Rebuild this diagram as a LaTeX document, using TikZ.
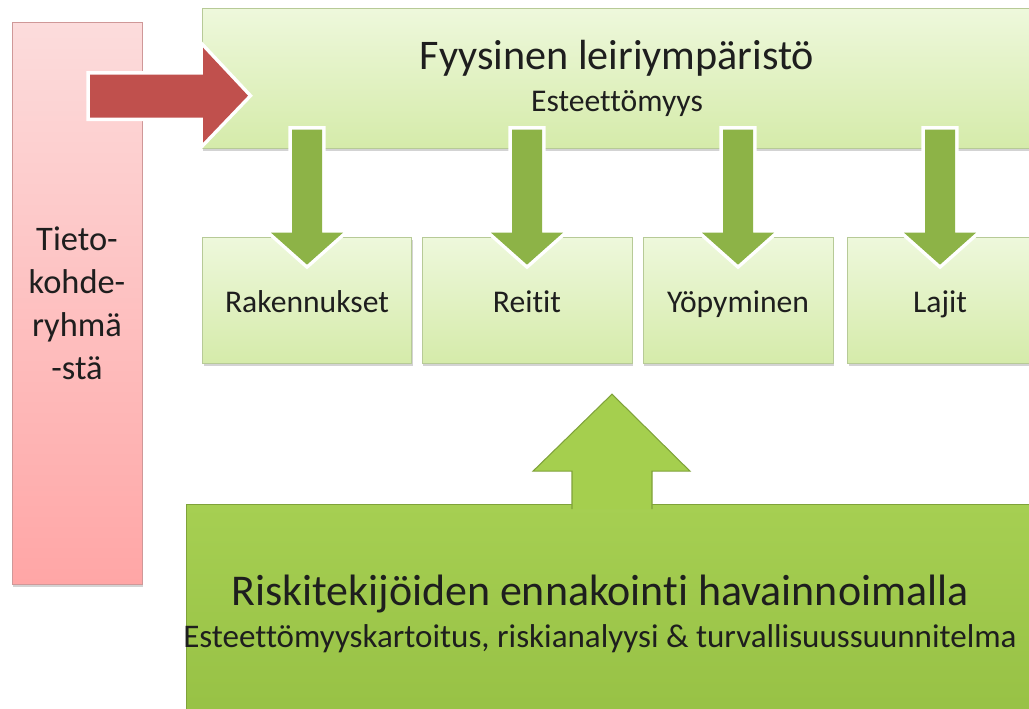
\documentclass[tikz,border=0pt]{standalone}
\usepackage{fontspec}
\setmainfont{Carlito}[Ligatures=NoCommon]
\usetikzlibrary{shadows,calc}
\definecolor{leafpale}{HTML}{EEF8DC}
\definecolor{leaflight}{HTML}{D5EBAA}
\definecolor{leafline}{HTML}{B7CA97}
\definecolor{rosepale}{HTML}{FCDCDC}
\definecolor{rosedeep}{HTML}{FFA6A6}
\definecolor{roseline}{HTML}{CF9898}
\definecolor{grasstop}{HTML}{A6CF52}
\definecolor{grassbot}{HTML}{97C145}
\definecolor{grassline}{HTML}{7FA23A}
\definecolor{liftgreen}{HTML}{A5CF4E}
\definecolor{olivegreen}{HTML}{8DB347}
\definecolor{arrowred}{HTML}{C0504D}
\definecolor{inktext}{HTML}{1E1E1E}

\begin{document}
\begin{tikzpicture}[x=0.02cm, y=-0.02cm,
    panel/.style={draw=leafline, top color=leafpale, bottom color=leaflight,
                  drop shadow={shadow xshift=0.6pt, shadow yshift=-1.6pt, opacity=0.35},
                  text=inktext, inner sep=0pt},
    item/.style={panel, minimum height=2.52cm, font=\fontsize{18}{22}\selectfont,
                 text height=14pt, text depth=0pt},
    sidebox/.style={draw=roseline, top color=rosepale, bottom color=rosedeep,
                    drop shadow={shadow xshift=0.6pt, shadow yshift=-1.6pt, opacity=0.35},
                    minimum width=2.6cm, minimum height=11.24cm, align=center,
                    text=inktext, font=\fontsize{19.6}{24.5}\selectfont},
    basebox/.style={draw=grassline, top color=grasstop, bottom color=grassbot},
    flowdown/.style={fill=olivegreen, preaction={draw=white, line width=4pt}},
    flowred/.style={fill=arrowred, preaction={draw=white, line width=4pt}},
    flowup/.style={fill=liftgreen, draw=grassline, line width=0.6pt}
]
\useasboundingbox (0,0) rectangle (1029,709);
\clip (0,0) rectangle (1029,709);

% --- boxes ---
\node[sidebox] (tieto) at (77,303) {Tieto-\\kohde-\\ryhmä\\-stä};

\node[panel, minimum width=16.6cm, minimum height=2.8cm, align=center,
      font=\fontsize{24}{24}\selectfont] (leiri) at (617,78)
  {Fyysinen leiriympäristö\\{\fontsize{18}{24}\selectfont Esteettömyys}};

\node[item, minimum width=4.18cm] (rak)  at (307,300) {Rakennukset};
\node[item, minimum width=4.2cm]  (reit) at (527,300) {Reitit};
\node[item, minimum width=3.8cm]  (yop)  at (738,300) {Yöpyminen};
\node[item, minimum width=3.7cm]  (laj)  at (940,300) {Lajit};

\node[basebox, minimum width=17.06cm, minimum height=4.3cm] (riski) at (613,612) {};
\node[align=center, text=inktext, font=\fontsize{25}{23.5}\selectfont] (ennakointi) at (600,614)
  {Riskitekijöiden ennakointi havainnoimalla\\
   {\fontsize{18.8}{23.5}\selectfont Esteettömyyskartoitus, riskianalyysi \& turvallisuussuunnitelma}};

% --- arrows ---
\path[flowred] ([shift={(13,53)}]tieto.north) -- ++(113,0) -- ++(0,-27) -- ++(45,48)
  -- ++(-45,47) -- ++(0,-25) -- ++(-113,0) -- cycle;

\foreach \n in {rak,reit,yop,laj}
  \path[flowdown] ([shift={(-15,-107)}]\n.north) -- ++(30,0) -- ++(0,103) -- ++(21,0)
    -- ++(-36,32) -- ++(-36,-32) -- ++(21,0) -- cycle;

\filldraw[flowup] ([shift={(-41,5)}]riski.north) -- ++(0,-38) -- ++(-39,0) -- ++(79,-77)
  -- ++(78,77) -- ++(-38,0) -- ++(0,38);

\end{tikzpicture}
\end{document}
